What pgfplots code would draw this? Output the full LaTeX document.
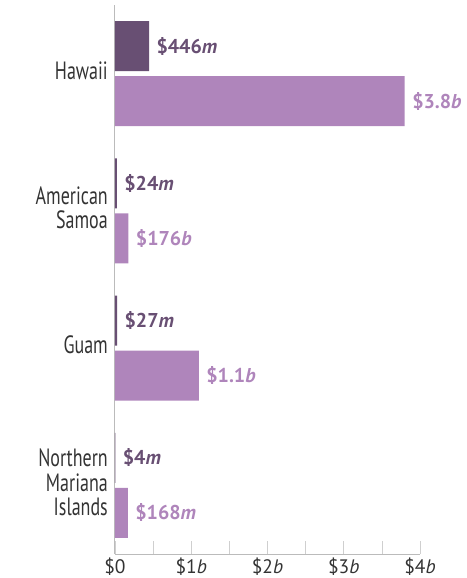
\documentclass[border=0pt]{standalone}
\usepackage{fontspec}
\setmainfont{PT Sans}
\usepackage{graphicx}
\usepackage{pgfplots}
\pgfplotsset{compat=1.18}
\definecolor{darkp}{HTML}{684F73}
\definecolor{lightp}{HTML}{AF85BB}
\definecolor{axgray}{HTML}{BBBBBB}
\definecolor{labgray}{HTML}{333333}
\newcommand{\cat}[1]{\scalebox{0.72}[1]{\fontsize{25bp}{22bp}\selectfont\begin{tabular}{@{}r@{}}#1\end{tabular}}}
\begin{document}
\begin{tikzpicture}
\begin{axis}[
  at={(0,0)}, anchor=south west,
  scale only axis, width=305bp, height=549bp,
  xmin=0, xmax=4, ymin=-0.5, ymax=3.5,
  y dir=reverse,
  axis x line=bottom, axis y line=left,
  axis line style={axgray, line width=1bp, -},
  xtick={0,1,2,3,4},
  xticklabels={\$0,\$1\textit{b},\$2\textit{b},\$3\textit{b},\$4\textit{b}},
  minor xtick={0.5,1.5,2.5,3.5},
  tick align=inside,
  major tick length=13bp, minor tick length=13bp,
  x tick style={axgray!70, line width=0.6bp},
  xticklabel style={font=\fontsize{19.5bp}{21bp}\selectfont, text=labgray, yshift=0bp},
  ytick={0,1,2,3},
  yticklabels={\cat{Hawaii},\cat{American\\Samoa},\cat{Guam},\cat{Northern\\Mariana\\Islands}},
  y tick style={draw=none},
  yticklabel style={text=labgray, inner sep=2bp, xshift=8bp},
  bar width=0.364,
  xbar,
  nodes near coords,
  point meta=explicit symbolic,
  clip=false,
]
\addplot[fill=darkp, draw=none, bar shift=-0.2,
  every node near coord/.append style={text=darkp, font=\fontsize{20bp}{22bp}\selectfont\bfseries, anchor=west, xshift=4bp}]
  coordinates {(0.446,0) [\$446\textit{m}] (0.024,1) [\$24\textit{m}] (0.027,2) [\$27\textit{m}] (0.004,3) [\$4\textit{m}]};
\addplot[fill=lightp, draw=none, bar shift=0.2,
  every node near coord/.append style={text=lightp, font=\fontsize{20bp}{22bp}\selectfont\bfseries, anchor=west, xshift=4bp}]
  coordinates {(3.8,0) [\$3.8\textit{b}] (0.176,1) [\$176\textit{b}] (1.1,2) [\$1.1\textit{b}] (0.168,3) [\$168\textit{m}]};
\end{axis}
\pgfresetboundingbox
\path[use as bounding box] (-115bp,-24bp) rectangle (352bp,554bp);
\end{tikzpicture}
\end{document}
